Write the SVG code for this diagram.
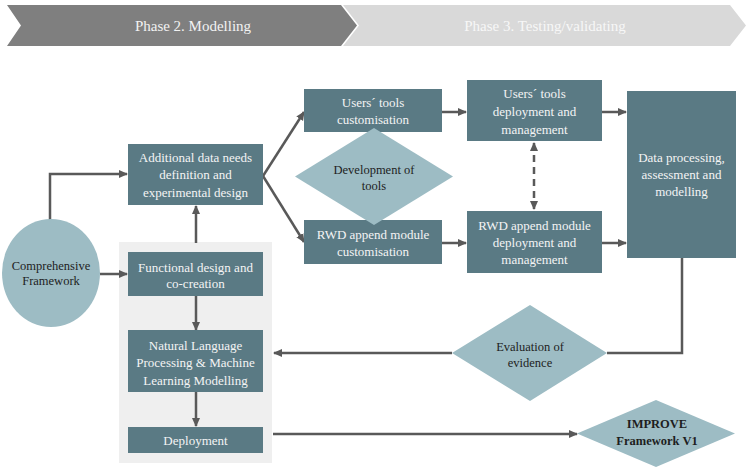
<svg xmlns="http://www.w3.org/2000/svg" width="748" height="470" viewBox="0 0 748 470" font-family="'Liberation Serif', 'Times New Roman', serif">
<defs>
<style>
.box{fill:#5a7a84}
.lt{fill:#9dbcc4}
text{font-family:'Liberation Serif','Times New Roman',serif}
.wt{font-size:13px;fill:#f4f4f4;text-anchor:middle}
.dt{font-size:12.5px;fill:#1e1e1e;text-anchor:middle}
.ph{font-size:15px;text-anchor:middle}
.c{fill:none;stroke:#595959;stroke-width:2.5}
</style>
<marker id="ah" markerUnits="userSpaceOnUse" markerWidth="9" markerHeight="9" refX="8" refY="4.5" orient="auto-start-reverse" viewBox="0 0 9 9">
<path d="M0,0.5 L9,4.5 L0,8.5 z" fill="#595959"/>
</marker>
</defs>
<rect width="748" height="470" fill="#ffffff"/>
<g id="phase2">
<polygon points="7,5 341,5 357,25.5 341,46 7,46 21,25.5" fill="#7f7f7f"/>
<text class="ph" x="193" y="30.5" fill="#f2f2f2">Phase 2. Modelling</text>
</g>
<g id="phase3">
<polygon points="343,5 730,5 746,25.5 730,46 343,46 359,25.5" fill="#d9d9d9"/>
<text class="ph" x="545" y="30.5" fill="#f7f7f7">Phase 3. Testing/validating</text>
</g>
<rect id="panel" x="119" y="242" width="153" height="221" fill="#efefef"/>
<g id="connectors">
<path class="c" d="M50,221 V174 H127" marker-end="url(#ah)"/>
<path class="c" d="M100,274 H127" marker-end="url(#ah)"/>
<path class="c" d="M196,243 V206" marker-end="url(#ah)"/>
<path class="c" d="M263,176 L304,112" marker-end="url(#ah)"/>
<path class="c" d="M263,176 L304,242" marker-end="url(#ah)"/>
<path class="c" d="M442,112 H466" marker-end="url(#ah)"/>
<path class="c" d="M442,243 H466" marker-end="url(#ah)"/>
<path class="c" d="M602,112 H626" marker-end="url(#ah)"/>
<path class="c" d="M602,243 H626" marker-end="url(#ah)"/>
<path class="c" d="M534,143 V209" stroke-dasharray="7,5" marker-start="url(#ah)" marker-end="url(#ah)"/>
<path class="c" d="M682,258 V353 H607"/>
<path class="c" d="M452,353 H274" marker-end="url(#ah)"/>
<path class="c" d="M196,296 V330" marker-end="url(#ah)"/>
<path class="c" d="M196,392 V426" marker-end="url(#ah)"/>
<path class="c" d="M273,434 H577" marker-end="url(#ah)"/>
</g>
<g id="comprehensive">
<ellipse class="lt" cx="51" cy="273" rx="49" ry="54"/>
<text class="dt" x="51" y="270">Comprehensive</text>
<text class="dt" x="51" y="285">Framework</text>
</g>
<g id="additional">
<rect class="box" x="128" y="144" width="135" height="61"/>
<text class="wt" x="195.5" y="161.5">Additional data needs</text>
<text class="wt" x="195.5" y="179">definition and</text>
<text class="wt" x="195.5" y="197">experimental design</text>
</g>
<g id="functional">
<rect class="box" x="128" y="252" width="135" height="44"/>
<text class="wt" x="195.5" y="271.5">Functional design and</text>
<text class="wt" x="195.5" y="288">co-creation</text>
</g>
<g id="nlp">
<rect class="box" x="128" y="330" width="135" height="62"/>
<text class="wt" x="195.5" y="349.5">Natural Language</text>
<text class="wt" x="195.5" y="367">Processing &amp; Machine</text>
<text class="wt" x="195.5" y="384.5">Learning Modelling</text>
</g>
<g id="deployment">
<rect class="box" x="128" y="427" width="135" height="26"/>
<text class="wt" x="195.5" y="445">Deployment</text>
</g>
<g id="users-custom">
<rect class="box" x="304" y="89" width="138" height="43"/>
<text class="wt" x="373" y="106.5">Users´ tools</text>
<text class="wt" x="373" y="123.5">customisation</text>
</g>
<g id="rwd-custom">
<rect class="box" x="304" y="220" width="138" height="44"/>
<text class="wt" x="373" y="238.5">RWD append module</text>
<text class="wt" x="373" y="256">customisation</text>
</g>
<g id="dev-tools">
<polygon class="lt" points="374,128 453,176.5 374,225 295,176.5"/>
<text class="dt" x="374" y="173.5">Development of</text>
<text class="dt" x="374" y="189.5">tools</text>
</g>
<g id="users-deploy">
<rect class="box" x="467" y="80" width="135" height="61"/>
<text class="wt" x="534.5" y="98">Users´ tools</text>
<text class="wt" x="534.5" y="116">deployment and</text>
<text class="wt" x="534.5" y="133.5">management</text>
</g>
<g id="rwd-deploy">
<rect class="box" x="467" y="211" width="135" height="62"/>
<text class="wt" x="534.5" y="229.5">RWD append module</text>
<text class="wt" x="534.5" y="246.5">deployment and</text>
<text class="wt" x="534.5" y="264">management</text>
</g>
<g id="data-processing">
<rect class="box" x="627" y="91" width="109" height="167"/>
<text class="wt" x="681.5" y="161.5">Data processing,</text>
<text class="wt" x="681.5" y="178.5">assessment and</text>
<text class="wt" x="681.5" y="196">modelling</text>
</g>
<g id="evaluation">
<polygon class="lt" points="530,305 607,353 530,401 452,353"/>
<text class="dt" x="530" y="351">Evaluation of</text>
<text class="dt" x="530" y="367">evidence</text>
</g>
<g id="improve">
<polygon class="lt" points="656,400 735,433.5 656,467 577,433.5"/>
<text class="dt" x="657" y="428" font-weight="bold">IMPROVE</text>
<text class="dt" x="657" y="445" font-weight="bold">Framework V1</text>
</g>
</svg>
